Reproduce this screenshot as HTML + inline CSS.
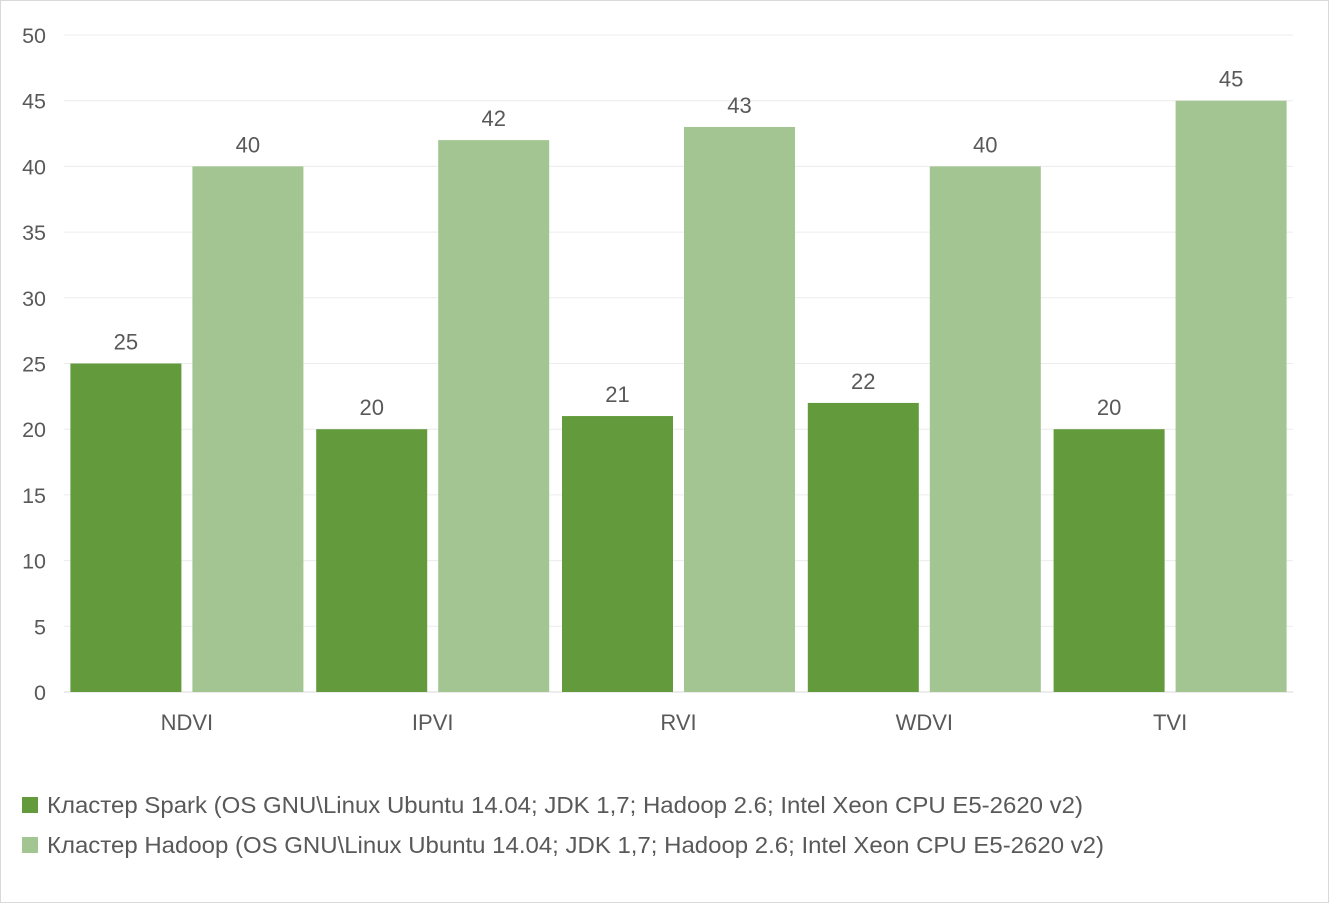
<!DOCTYPE html>
<html><head><meta charset="utf-8"><style>
html,body{margin:0;padding:0;background:#fff}
svg{display:block;font-family:"Liberation Sans",Arial,sans-serif}
</style></head><body>
<svg id="chart" width="1329" height="903" viewBox="0 0 1329 903" xmlns="http://www.w3.org/2000/svg">
<rect x="0.5" y="0.5" width="1328" height="902" fill="#fff" stroke="#d9d9d9"/>
<g id="grid"></g><g id="bars"></g><g id="labels"></g>
<g>
<rect x="22" y="797" width="16" height="16" fill="#629a3c"/>
<text x="47" y="813" font-size="23" textLength="1036" lengthAdjust="spacingAndGlyphs" fill="#595959">Кластер Spark (OS GNU\Linux Ubuntu 14.04; JDK 1,7; Hadoop 2.6; Intel Xeon CPU E5-2620 v2)</text>
<rect x="22" y="837" width="16" height="16" fill="#a2c591"/>
<text x="47" y="853" font-size="23" textLength="1057" lengthAdjust="spacingAndGlyphs" fill="#595959">Кластер Hadoop (OS GNU\Linux Ubuntu 14.04; JDK 1,7; Hadoop 2.6; Intel Xeon CPU E5-2620 v2)</text>
</g>
</svg>
<script>
const categories=["NDVI","IPVI","RVI","WDVI","TVI"];
const sparkValues=[25,20,21,22,20];
const hadoopValues=[40,42,43,40,45];
const yTicks=[0,5,10,15,20,25,30,35,40,45,50];
const NS="http://www.w3.org/2000/svg";
const x0=64,x1=1293,yBase=692,yTop=35,yMax=50;
const y=v=>yBase-(v/yMax)*(yBase-yTop);
const bandW=(x1-x0)/categories.length;
const xc=i=>x0+bandW*(i+0.5);
function mk(tag,attrs,parent){const e=document.createElementNS(NS,tag);for(const k in attrs)e.setAttribute(k,attrs[k]);parent.appendChild(e);return e;}
const grid=document.getElementById('grid'),bars=document.getElementById('bars'),labels=document.getElementById('labels');
yTicks.forEach(t=>{
 const l=mk('line',{x1:x0,x2:x1,y1:y(t),y2:y(t),stroke:t===0?'#d9d9d9':'#ececec','stroke-width':1},grid);
 
 
 const tx=mk('text',{x:46,y:y(t)+8,'text-anchor':'end','font-size':21.5,fill:'#595959'},labels);
 tx.textContent=t;
 
 
});
const bw=111,gap=11;
categories.forEach((c,i)=>{
 [[sparkValues[i],'#629a3c',-1,'spark'],[hadoopValues[i],'#a2c591',1,'hadoop']].forEach(([v,col,s,nm])=>{
  const bx=s<0?xc(i)-gap/2-bw:xc(i)+gap/2;
  const r=mk('rect',{x:bx,y:y(v),width:bw,height:yBase-y(v),fill:col},bars);
  
  
  const t=mk('text',{x:bx+bw/2,y:y(v)-14,'text-anchor':'middle','font-size':22,fill:'#595959'},labels);
  t.textContent=v;
  
  
 });
 const t=mk('text',{x:xc(i),y:730,'text-anchor':'middle','font-size':22,fill:'#595959'},labels);
 t.textContent=c;
 
 
});
</script>
</body></html>
